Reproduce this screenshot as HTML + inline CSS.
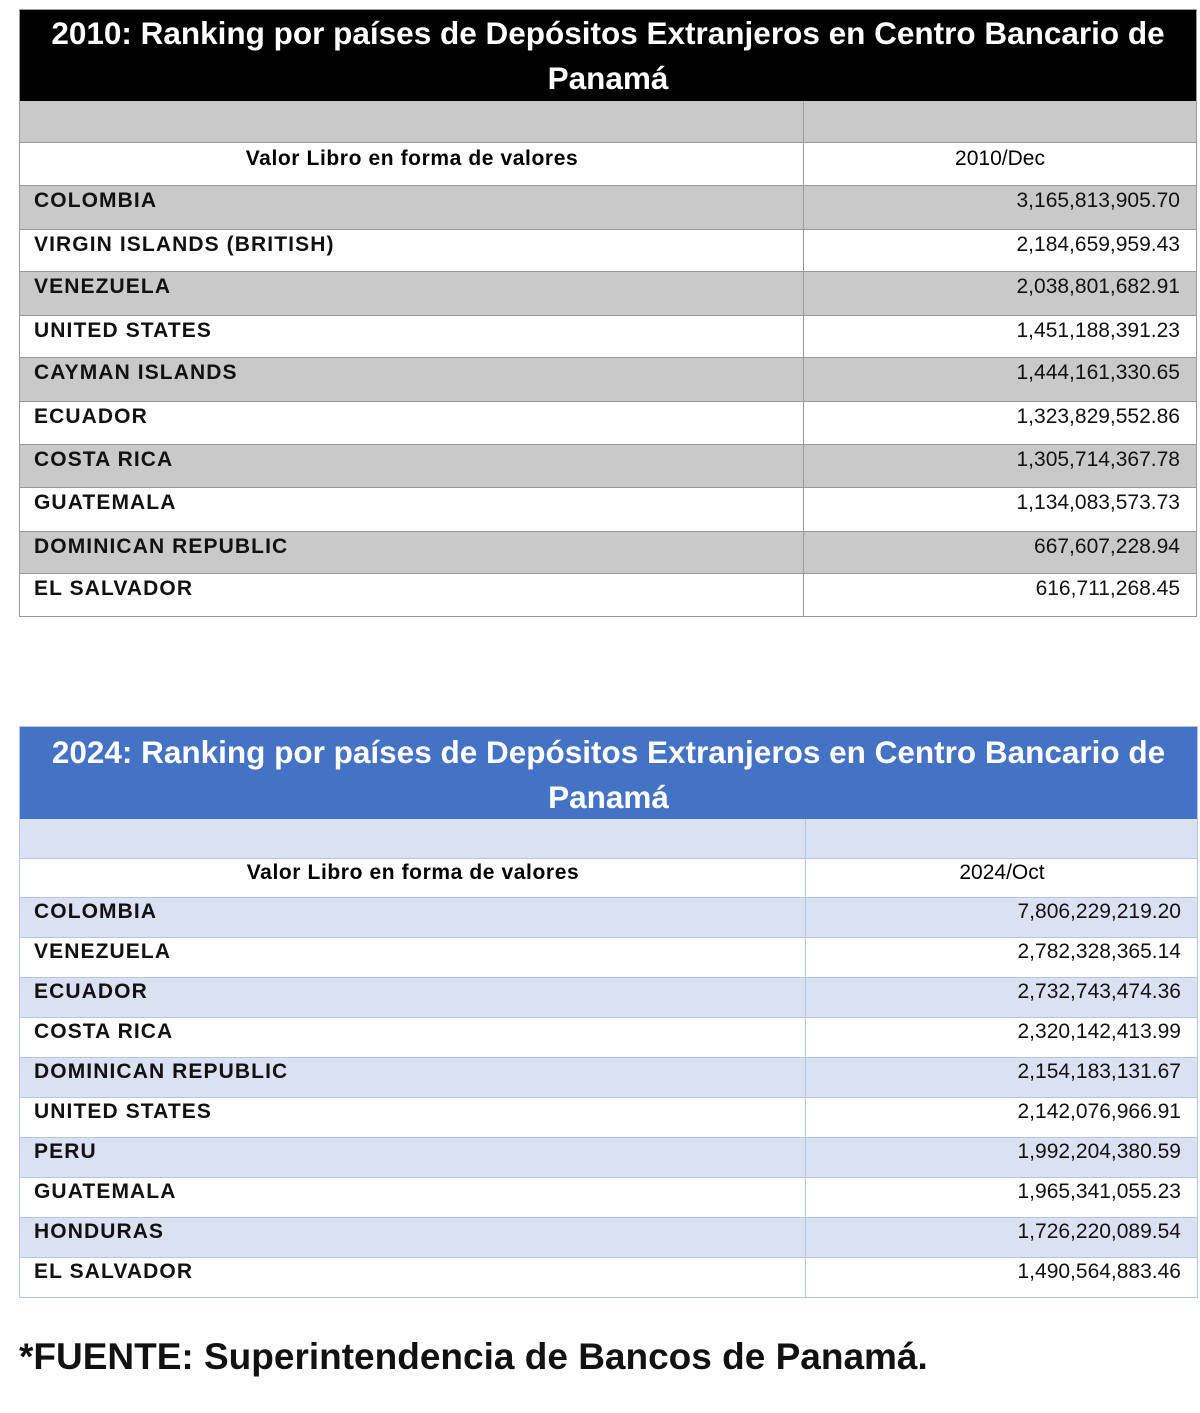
<!DOCTYPE html>
<html><head><meta charset="utf-8"><style>
*{margin:0;padding:0;box-sizing:border-box}
body{width:1200px;height:1413px;background:#fff;position:relative;overflow:hidden;font-family:"Liberation Sans",sans-serif}
.a{position:absolute}
.t{color:#fff;font-weight:bold;font-size:31.5px;text-align:center;line-height:45px}
.c{position:absolute;font-weight:bold;font-size:21px;letter-spacing:1.1px;left:14px;color:#111}
.v{position:absolute;font-size:21px;right:16px;color:#111;text-align:right}
.vl{position:absolute;top:0;bottom:0;width:1px}
.h{font-weight:bold;font-size:21px;letter-spacing:0.6px;text-align:center}
</style></head><body>
<!-- Table 1 -->
<div class="a" style="left:19px;top:9px;width:1178px;height:608px;border:1px solid #999;background:#fff">
 <div class="a t" style="left:0;top:0;width:1176px;height:91px;background:#000;padding-top:1px">2010: Ranking por países de Depósitos Extranjeros en Centro Bancario de Panamá</div>
 <div class="a" style="left:0;top:91px;width:1176px;height:42px;background:#c9c9c9;border-bottom:1px solid #999"></div>
 <div class="a h" style="left:0;top:137px;width:784px">Valor Libro en forma de valores</div>
 <div class="a" style="left:784px;top:137px;width:392px;text-align:center;font-size:21px">2010/Dec</div>
 <div class="vl a" style="left:783px;top:91px;background:#999"></div>
</div>
<!-- Table 2 -->
<div class="a" style="left:19px;top:726px;width:1179px;height:572px;border:1px solid #b4c6e7;background:#fff">
 <div class="a t" style="left:0;top:0;width:1177px;height:92px;background:#4472c4;padding-top:3px">2024: Ranking por países de Depósitos Extranjeros en Centro Bancario de Panamá</div>
 <div class="a" style="left:0;top:92px;width:1177px;height:40px;background:#d9e1f2;border-bottom:1px solid #b4c6e7"></div>
 <div class="a h" style="left:0;top:134px;width:786px">Valor Libro en forma de valores</div>
 <div class="a" style="left:786px;top:134px;width:392px;text-align:center;font-size:21px">2024/Oct</div>
 <div class="vl a" style="left:785px;top:92px;background:#b4c6e7"></div>
</div>
<div class="a" style="left:19px;top:1336px;font-weight:bold;font-size:37px;color:#111">*FUENTE: Superintendencia de Bancos de Panamá.</div>
<script>
function rows(tops,bottom,data,odd,border,divx,left,width,toff){
 let h='';
 for(let i=0;i<tops.length;i++){
  const t=tops[i],b=(i+1<tops.length?tops[i+1]:bottom);
  const bg=i%2==0?odd:'#fff';
  h+=`<div class="a" style="left:${left}px;top:${t}px;width:${width}px;height:${b-t+1}px;background:${bg};border:1px solid ${border}">
  <div class="c" style="top:${toff}px">${data[i][0]}</div><div class="v" style="top:${toff}px">${data[i][1]}</div>
  <div class="vl a" style="left:${divx-left-1}px;background:${border}"></div></div>`;
 }
 return h;
}
const d1=[["COLOMBIA","3,165,813,905.70"],["VIRGIN ISLANDS (BRITISH)","2,184,659,959.43"],["VENEZUELA","2,038,801,682.91"],["UNITED STATES","1,451,188,391.23"],["CAYMAN ISLANDS","1,444,161,330.65"],["ECUADOR","1,323,829,552.86"],["COSTA RICA","1,305,714,367.78"],["GUATEMALA","1,134,083,573.73"],["DOMINICAN REPUBLIC","667,607,228.94"],["EL SALVADOR","616,711,268.45"]];
const d2=[["COLOMBIA","7,806,229,219.20"],["VENEZUELA","2,782,328,365.14"],["ECUADOR","2,732,743,474.36"],["COSTA RICA","2,320,142,413.99"],["DOMINICAN REPUBLIC","2,154,183,131.67"],["UNITED STATES","2,142,076,966.91"],["PERU","1,992,204,380.59"],["GUATEMALA","1,965,341,055.23"],["HONDURAS","1,726,220,089.54"],["EL SALVADOR","1,490,564,883.46"]];
document.body.insertAdjacentHTML('beforeend',
 rows([185,229,271,315,357,401,444,487,531,573],616,d1,'#c9c9c9','#999',803,19,1178,3)+
 rows([897,937,977,1017,1057,1097,1137,1177,1217,1257],1297,d2,'#d9e1f2','#b4c6e7',805,19,1179,2));
</script>
</body></html>
